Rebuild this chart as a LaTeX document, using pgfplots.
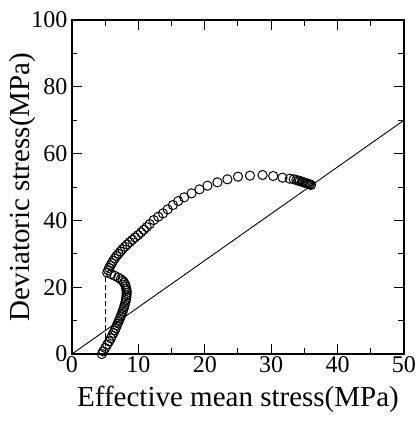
\documentclass[border=0pt]{standalone}
\usepackage{pgfplots}
\pgfplotsset{compat=1.18}
\usepackage{fontspec}
\setmainfont{Liberation Serif}
\begin{document}
\begin{tikzpicture}
\begin{axis}[
  name=ax,
  scale only axis,
  width=332pt, height=334pt,
  xmin=0, xmax=50, ymin=0, ymax=100,
  xtick={0,10,...,50}, ytick={0,20,...,100},
  minor x tick num=1, minor y tick num=1,
  tick align=inside,
  major tick length=10pt, minor tick length=5.5pt,
  axis line style={line width=1.2pt},
  every tick/.style={line width=1pt, black},
  /pgf/number format/assume math mode=true,
  ticklabel style={font=\fontsize{24}{24}\selectfont},
  yticklabel style={xshift=-1pt},
  xticklabel style={yshift=1pt},
  label style={font=\fontsize{29}{29}\selectfont},
  xlabel={Effective mean stress(MPa)},
  ylabel={Deviatoric stress(MPa)},
  xlabel style={at={(axis description cs:0.5,0)}, anchor=base, yshift=-52pt},
  ylabel style={at={(axis description cs:-0.128,0.5)}, anchor=base},
  clip=false,
]
\addplot[black, line width=0.9pt] coordinates {(0,0) (50,70)};
\addplot[black, line width=0.9pt, dash pattern=on 5pt off 3pt] coordinates {(5,0) (5,23)};
% lower bulge
\addplot[only marks, mark=o, mark size=4.6pt, mark options={fill=white, draw=black, line width=1pt}] coordinates {
(4.5,0.0)(4.7,0.8)(5.0,1.8)(5.3,2.8)(5.6,3.8)(5.85,4.7)(6.05,5.5)(6.25,6.3)(6.45,7.1)(6.6,7.8)(6.75,8.5)(6.9,9.2)(7.05,9.9)(7.2,10.6)(7.35,11.3)(7.5,12.0)(7.62,12.7)(7.74,13.4)(7.85,14.1)(7.95,14.8)(8.05,15.5)(8.12,16.2)(8.18,16.9)(8.22,17.6)(8.24,18.3)(8.22,19.0)(8.18,19.6)(8.1,20.2)(8.0,20.8)(7.85,21.4)(7.65,21.9)(7.35,22.4)(6.95,22.9)(6.45,23.4)(5.9,23.9)
};
% upper curve
\addplot[only marks, mark=o, mark size=4.6pt, mark options={fill=white, draw=black, line width=1pt}] coordinates {
(5.3,24.4)(5.45,25.1)(5.6,25.8)(5.8,26.5)(6.0,27.2)(6.2,27.9)(6.45,28.6)(6.7,29.3)(7.0,30.0)(7.3,30.7)(7.6,31.4)(7.95,32.1)(8.3,32.8)(8.7,33.5)(9.1,34.2)(9.5,34.9)(9.95,35.6)(10.4,36.4)(10.8,37.2)(11.25,38.0)(11.7,38.9)(12.3,40.1)(13.0,41.1)(13.7,42.1)(14.4,43.3)(15.2,44.6)(16.0,45.8)(16.9,46.9)(18.0,48.1)(19.2,49.3)(20.4,50.4)(21.9,51.4)(23.4,52.3)(25.0,53.1)(26.8,53.4)(28.7,53.6)(30.3,53.3)(31.7,52.8)(32.8,52.5)(33.4,52.3)(33.8,52.1)(34.1,51.9)(34.3,51.8)(34.6,51.6)(34.8,51.5)(35.0,51.3)(35.2,51.2)(35.4,51.1)(35.6,50.9)(35.8,50.8)(36.0,50.6)
};
\end{axis}
\pgfresetboundingbox
\path ([xshift=-72pt,yshift=-67pt]ax.south west) rectangle ([xshift=15pt,yshift=20pt]ax.north east);
\end{tikzpicture}
\end{document}
